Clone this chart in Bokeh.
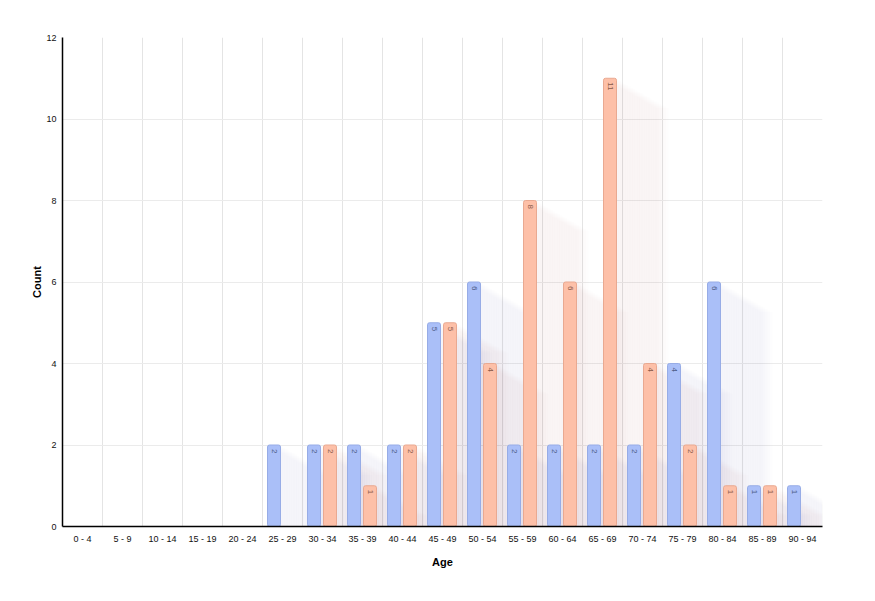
import math
from bokeh.plotting import figure
from bokeh.models import FixedTicker, ColumnDataSource
from bokeh.core.properties import value
from bokeh.embed import file_html
from bokeh.resources import INLINE

categories = ["0 - 4", "5 - 9", "10 - 14", "15 - 19", "20 - 24", "25 - 29", "30 - 34",
              "35 - 39", "40 - 44", "45 - 49", "50 - 54", "55 - 59", "60 - 64", "65 - 69",
              "70 - 74", "75 - 79", "80 - 84", "85 - 89", "90 - 94"]
series_blue = [0, 0, 0, 0, 0, 2, 2, 2, 2, 5, 6, 2, 2, 2, 2, 4, 6, 1, 1]
series_salmon = [0, 0, 0, 0, 0, 0, 2, 1, 2, 5, 4, 8, 6, 11, 4, 2, 1, 1, 0]
y_ticks = [0, 2, 4, 6, 8, 10, 12]

FONT = "Liberation Sans"
W, H = 875, 601
L, T, R, B = 62, 37, 53, 75
frame_w = W - L - R
frame_h = H - T - B
n = len(categories)
px_x = n / frame_w          # data units per pixel, x
px_y = 12 / frame_h         # data units per pixel, y

p = figure(width=W, height=H, x_range=(0, n), y_range=(0, 12),
           output_backend="svg", toolbar_location=None,
           min_border_left=L, min_border_right=R, min_border_top=T, min_border_bottom=B)
p.outline_line_color = None
p.background_fill_color = "white"
p.border_fill_color = "white"

bar_w = 0.325
offsets = {"blue": 0.2875, "salmon": 0.6875}
styles = {
    "blue": dict(fill="#aabff8", line="#97ace6", shadow="#2e3d7a", text="#4d5c86"),
    "salmon": dict(fill="#fdc0a8", line="#e9a991", shadow="#6b3f2c", text="#8a5a48"),
}

# long diagonal shadows (stacked translucent copies fading out)
steps = 22
max_len = 52
for key, vals in (("blue", series_blue), ("salmon", series_salmon)):
    l, r, t, b = [], [], [], []
    for i, v in enumerate(vals):
        if v <= 0:
            continue
        x0 = i + offsets[key] - bar_w / 2
        for k in range(1, steps + 1):
            d = max_len * k / steps
            dx = d * px_x
            dy = 0.57 * d * px_y
            l.append(x0 + dx)
            r.append(x0 + bar_w + dx)
            t.append(v - dy)
            b.append(-1 - dy)
    p.quad(left=l, right=r, top=t, bottom=b, fill_color=styles[key]["shadow"],
           fill_alpha=0.0065, line_color=None)

for key, vals in (("blue", series_blue), ("salmon", series_salmon)):
    xs = [i + offsets[key] for i, v in enumerate(vals) if v > 0]
    tops = [v for v in vals if v > 0]
    src = ColumnDataSource(dict(x=xs, top=tops, label=[str(v) for v in tops]))
    p.vbar(x="x", top="top", bottom=0, width=bar_w, source=src,
           fill_color=styles[key]["fill"], line_color=styles[key]["line"], line_width=1,
           border_radius=2)
    p.text(x="x", y="top", text="label", source=src, angle=-math.pi / 2,
           text_align="left", text_baseline="middle", y_offset=4,
           text_font=value(FONT), text_font_size="8px", text_color=styles[key]["text"])

# axes
p.xaxis.ticker = FixedTicker(ticks=[i + 0.5 for i in range(n)])
p.xaxis.major_label_overrides = {i + 0.5: c for i, c in enumerate(categories)}
p.yaxis.ticker = FixedTicker(ticks=y_ticks)
for ax in (p.xaxis[0], p.yaxis[0]):
    ax.axis_line_color = "black"
    ax.axis_line_width = 1.5
    ax.major_tick_line_color = None
    ax.minor_tick_line_color = None
    ax.major_tick_out = 0
    ax.major_tick_in = 0
    ax.minor_tick_out = 0
    ax.minor_tick_in = 0
    ax.major_label_text_font = FONT
    ax.major_label_text_font_size = "9px"
    ax.major_label_text_color = "#111111"
    ax.axis_label_text_font = FONT
    ax.axis_label_text_font_size = "11px"
    ax.axis_label_text_font_style = "bold"
    ax.axis_label_text_color = "black"
p.xaxis.axis_label = "Age"
p.yaxis.axis_label = "Count"
p.xaxis.major_label_standoff = 7
p.yaxis.major_label_standoff = 6
p.xaxis.axis_label_standoff = 9
p.yaxis.axis_label_standoff = 0

p.xgrid[0].ticker = FixedTicker(ticks=list(range(n + 1)))
p.xgrid.grid_line_color = "#e4e4e4"
p.ygrid.grid_line_color = "#ebebeb"

open("out.html", "w").write(file_html(p, INLINE))
